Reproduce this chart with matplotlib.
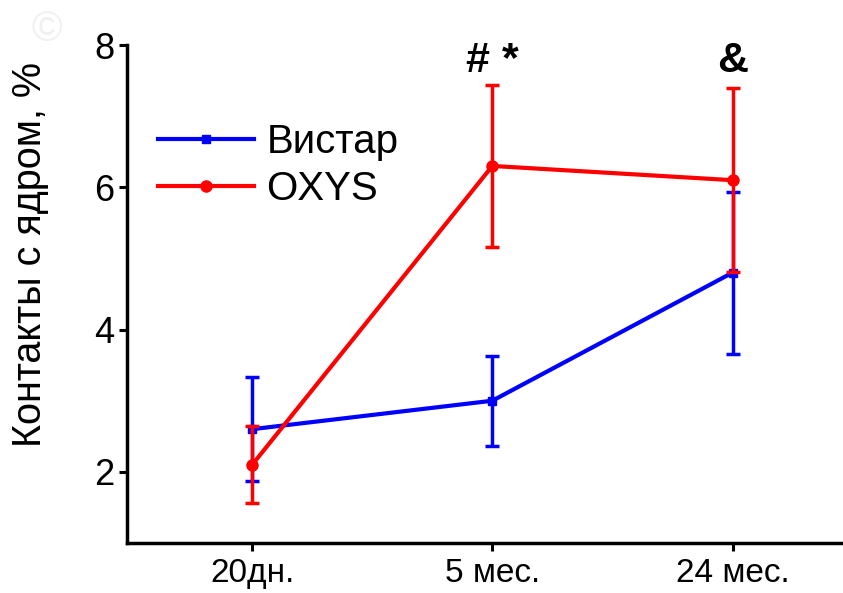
import matplotlib
matplotlib.use('Agg')
import matplotlib.pyplot as plt
from matplotlib.lines import Line2D
import numpy as np

plt.rcParams['font.family'] = ['Liberation Sans', 'DejaVu Sans']

# Data
ages = ['20дн.', '5 мес.', '24 мес.']
wistar_mean = [2.6, 3.0, 4.8]
wistar_err = [0.73, 0.63, 1.14]
oxys_mean = [2.1, 6.3, 6.1]
oxys_err = [0.54, 1.14, 1.29]
marks = ['', '# *', '&']

x = np.arange(len(ages))

fig = plt.figure(figsize=(8.43, 5.93), dpi=100)
ax = fig.add_axes([0.151, 0.0843, 0.849, 0.8398])

ax.errorbar(x, wistar_mean, yerr=wistar_err, color='#0000ff', marker='s', markersize=6,
            lw=3, elinewidth=2.5, capsize=5, capthick=2.5, zorder=2)
ax.errorbar(x, oxys_mean, yerr=oxys_err, color='#ff0000', marker='o', markersize=8,
            lw=3, elinewidth=2.5, capsize=5, capthick=2.5, zorder=3)

# significance marks above each OXYS point
for xi, m in zip(x, marks):
    if m:
        ax.text(xi, 7.78, m, ha='center', va='center', fontsize=31, fontweight='bold')

ax.set_xlim(-0.52, 2.46)
ax.set_ylim(1, 8)
ax.set_xticks(x)
ax.set_xticklabels(ages, fontsize=24)
ax.set_yticks([2, 4, 6, 8])
ax.tick_params(axis='y', labelsize=26, width=2.2, length=6, direction='out')
ax.tick_params(axis='x', width=2.2, length=6, direction='out', pad=5)

for s in ['top', 'right']:
    ax.spines[s].set_visible(False)
for s in ['left', 'bottom']:
    ax.spines[s].set_linewidth(2.5)

ax.set_ylabel('Контакты с ядром, %', fontsize=28.5)
ax.yaxis.set_label_coords(-0.11, 0.58)

handles = [Line2D([0], [0], color='#0000ff', lw=3, marker='s', markersize=6),
           Line2D([0], [0], color='#ff0000', lw=3, marker='o', markersize=8)]
ax.legend(handles, ['Вистар', 'OXYS'], loc='upper left', bbox_to_anchor=(0.02, 0.875),
          fontsize=29, frameon=False, handlelength=2.4, handletextpad=0.3,
          labelspacing=0.22, borderaxespad=0)

fig.text(0.055, 0.95, '©', fontsize=30, color='#f0f0f0', ha='center', va='center')

fig.savefig('out.png', dpi=100)
